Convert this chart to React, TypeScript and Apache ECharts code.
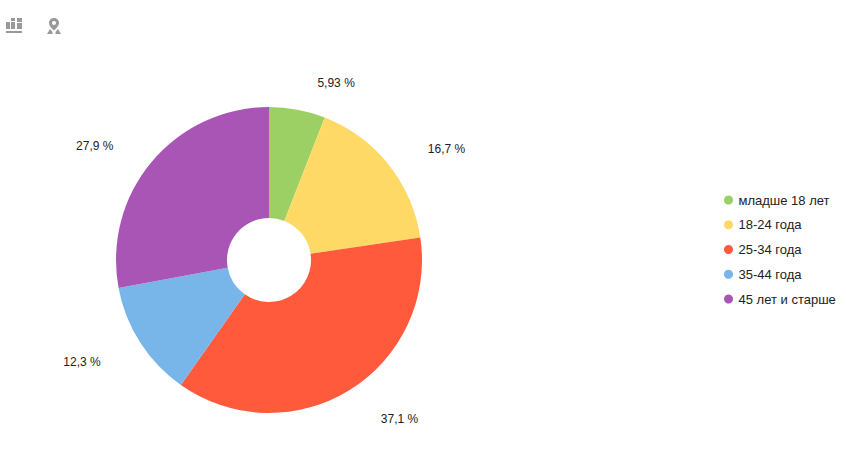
import React, { useEffect, useRef } from "react";
import * as echarts from "echarts";

const categories = ["младше 18 лет", "18-24 года", "25-34 года", "35-44 года", "45 лет и старше"];
const values = [5.93, 16.7, 37.1, 12.3, 27.9];
const labels = ["5,93 %", "16,7 %", "37,1 %", "12,3 %", "27,9 %"];
const colors = ["#9ccf64", "#ffd966", "#ff5a3c", "#78b6ea", "#a855b5"];

echarts.graphic.registerShape(
  "pinIcon",
  echarts.graphic.extendPath(
    "M7 0C3.8 0 2 2.2 2 5C2 7.6 4.6 10.4 7 12.6C9.4 10.4 12 7.6 12 5C12 2.2 10.2 0 7 0ZM7 3A2 2 0 1 1 6.99 3ZM3 11L0 16L5.5 16L5.5 14ZM11 11L14 16L8.5 16L8.5 14Z",
    {}
  )
);

const iconFill = "#999999";
const labelNudges = [
  [11, -5],
  [17, -2],
  [15, 10],
  [-16, 8],
  [-16, -2],
];
const toolbarRects = [
  [6, 22, 4, 7],
  [11, 18, 4, 3],
  [11, 22, 4, 7],
  [17, 18, 5, 4],
  [17, 23, 5, 6],
  [6, 31, 16, 2],
];

export default function App() {
  const ref = useRef<HTMLDivElement>(null);
  useEffect(() => {
    document.body.style.margin = "0";
    const chart = echarts.init(ref.current!, undefined, { renderer: "svg" });
    chart.setOption({
      animation: false,
      backgroundColor: "#ffffff",
      textStyle: { fontFamily: "Liberation Sans" },
      color: colors,
      legend: {
        orient: "vertical",
        left: 719,
        top: 188.5,
        itemWidth: 12,
        itemHeight: 9,
        itemGap: 11.75,
        icon: "circle",
        data: categories,
        textStyle: { fontSize: 13, color: "#222222", fontFamily: "Liberation Sans", padding: [0, 0, 0, -1] },
      },
      graphic: [
        ...toolbarRects.map(([x, y, width, height]) => ({
          type: "rect",
          shape: { x, y, width, height },
          style: { fill: iconFill },
        })),
        { type: "pinIcon", x: 47, y: 18, style: { fill: iconFill } },
      ],
      series: [
        {
          type: "pie",
          center: [269, 260],
          radius: [42, 153],
          startAngle: 90,
          clockwise: true,
          avoidLabelOverlap: false,
          data: categories.map((name, i) => ({ name, value: values[i], label: { formatter: labels[i] } })),
          label: { show: true, position: "outside", fontSize: 12, color: "#222222", fontFamily: "Liberation Sans", alignTo: "none" },
          labelLine: { show: false, length: 22, length2: 0 },
          labelLayout: (p: any) => ({ dx: labelNudges[p.dataIndex][0], dy: labelNudges[p.dataIndex][1] }),
          itemStyle: { borderWidth: 0 },
          emphasis: { disabled: true },
        },
      ],
    });
    return () => chart.dispose();
  }, []);
  return <div ref={ref} style={{ width: 846, height: 460 }} />;
}
